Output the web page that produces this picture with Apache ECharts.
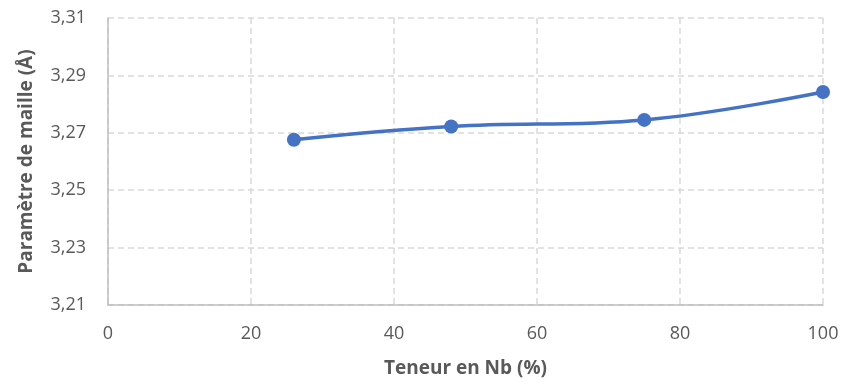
<!DOCTYPE html>
<html><head><meta charset="utf-8">
<script src="https://cdn.jsdelivr.net/npm/echarts@6/dist/echarts.min.js"></script>
<style>html,body{margin:0;padding:0;background:#fff}#c{width:842px;height:383px}</style>
</head><body><div id="c"></div>
<script>
var xValues = [26, 48, 75, 100];
var yValues = [3.2676, 3.2722, 3.2745, 3.2842];
var xTitle = 'Teneur en Nb (%)';
var yTitle = 'Paramètre de maille (Å)';

var font = '"Open Sans", "Noto Sans", sans-serif';
var chart = echarts.init(document.getElementById('c'));
chart.setOption({
  animation: false,
  grid: {left: 108, right: 19, top: 18, bottom: 78},
  xAxis: {
    type: 'value', min: 0, max: 100, interval: 20,
    name: xTitle, nameLocation: 'middle', nameGap: 54,
    nameTextStyle: {fontFamily: font, fontSize: 19, fontWeight: 'bold', color: '#595959'},
    axisLine: {show: true, lineStyle: {color: '#bfbfbf', width: 1.5}},
    axisTick: {show: false},
    axisLabel: {fontFamily: font, fontSize: 18, color: '#595959', margin: 20},
    splitLine: {show: true, lineStyle: {color: '#d9d9d9', type: [6, 4], width: 1.5}}
  },
  yAxis: {
    type: 'value', min: 3.21, max: 3.31, interval: 0.02,
    name: yTitle, nameLocation: 'middle', nameGap: 72, nameRotate: 90,
    nameTextStyle: {fontFamily: font, fontSize: 19, fontWeight: 'bold', color: '#595959'},
    axisLine: {show: true, lineStyle: {color: '#bfbfbf', width: 1.5}},
    axisTick: {show: false},
    axisLabel: {fontFamily: font, fontSize: 18, color: '#595959', margin: 22,
      formatter: function (v) { return v.toFixed(2).replace('.', ','); }},
    splitLine: {show: true, lineStyle: {color: '#d9d9d9', type: [6, 4], width: 1.5}}
  },
  series: [{
    type: 'line', smooth: 0.4,
    data: xValues.map(function (x, i) { return [x, yValues[i]]; }),
    symbol: 'circle', symbolSize: 14,
    lineStyle: {color: '#4472C4', width: 3.5},
    itemStyle: {color: '#4472C4'}
  }]
});
</script></body></html>
